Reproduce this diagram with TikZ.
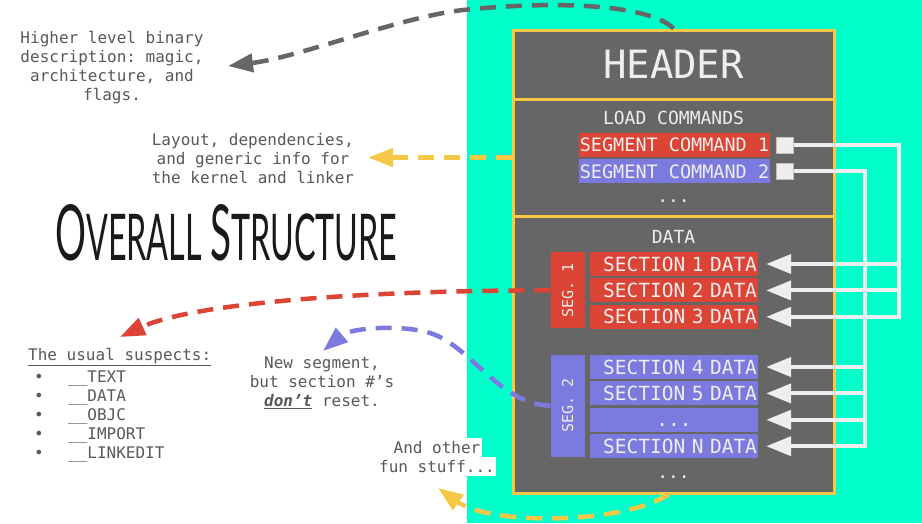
\documentclass[tikz,border=0pt]{standalone}
\usepackage{fontspec}
\setmonofont{DejaVu Sans Mono}
\newfontfamily\titlefont{Lato}
\usepackage{tikz}
\usetikzlibrary{arrows.meta, positioning}

\definecolor{sea}{HTML}{00FFCA}
\definecolor{slab}{HTML}{666666}
\definecolor{gold}{HTML}{F6C845}
\definecolor{segred}{HTML}{DC4436}
\definecolor{segblue}{HTML}{7B7BDF}
\definecolor{note}{HTML}{595959}
\definecolor{paper}{HTML}{EEEEEE}
\definecolor{ink}{HTML}{1A1A1A}

\begin{document}
\begin{tikzpicture}[
    x=1pt, y=-1pt,
    part/.style={draw=gold, line width=3pt, fill=slab, minimum width=321pt, inner sep=0pt},
    tag/.style={text=paper, inner sep=0pt, font=\ttfamily\fontsize{18}{18}\selectfont},
    cmd/.style={fill=#1, text=paper, minimum width=191pt, minimum height=24pt, inner sep=0pt, font=\ttfamily\fontsize{18.5}{18.5}\selectfont},
    sect/.style={fill=#1, text=paper, minimum width=168pt, minimum height=24pt, inner xsep=1pt, inner ysep=0pt, text width=166pt, align=right, font=\ttfamily\fontsize{19.5}{19.5}\selectfont},
    seg/.style={fill=#1, text=paper, minimum width=34pt, inner sep=0pt, font=\ttfamily\fontsize{15}{15}\selectfont},
    port/.style={draw=black!25, fill=paper, minimum width=17pt, minimum height=16pt, inner sep=0pt},
    wire/.style={draw=paper, line width=4pt, -{Triangle[length=25pt, width=19pt]}, shorten >=8pt},
    notes/.style={text=note, align=center, inner sep=0pt, font=\ttfamily\fontsize{16}{19}\selectfont},
    hint/.style={draw=#1, line width=4.5pt, dash pattern=on 16pt off 10pt, -{Triangle[length=25pt, width=18pt]}},
]
    \useasboundingbox (0,0) rectangle (922,523);
    \fill[white] (0,0) rectangle (467,523);
    \fill[sea] (467,0) rectangle (922,523);

    % Binary layout
    \node[part, minimum height=69pt, text=paper, font=\ttfamily\fontsize{39}{39}\selectfont] (hdr) at (673.5,64.5) {HEADER};
    \node[part, minimum height=117pt] (lcmd) at (673.5,157.5) {};
    \node[part, minimum height=277pt] (dsec) at (673.5,354.5) {};

    % Load commands
    \node[tag] (lctitle) at (673.5,118) {LOAD COMMANDS};
    \node[cmd=segred] (sc1) at (674.5,145) {SEGMENT COMMAND 1};
    \node[cmd=segblue, below=2pt of sc1] (sc2) {SEGMENT COMMAND 2};
    \node[port, right=6pt of sc1] (sq1) {};
    \node[port, right=6pt of sc2] (sq2) {};
    \node[tag] (lcdots) at (673.5,201) {...};

    % Data
    \node[tag] (dtitle) at (673.5,237) {DATA};
    \node[sect=segred] (s1) at (674,264) {SECTION 1 DATA};
    \node[sect=segred, below=2pt of s1] (s2) {SECTION 2 DATA};
    \node[sect=segred, below=2pt of s2] (s3) {SECTION 3 DATA};
    \node[seg=segred, minimum height=76pt, left=5pt of s2] (seg1) {\rotatebox{90}{SEG. 1}};
    \node[sect=segblue] (s4) at (674,367) {SECTION 4 DATA};
    \node[sect=segblue, below=2pt of s4] (s5) {SECTION 5 DATA};
    \node[sect=segblue, below=2pt of s5, align=center] (s6) {\vphantom{S}...};
    \node[sect=segblue, below=2pt of s6] (sn) {SECTION N DATA};
    \node[seg=segblue, minimum height=102pt, left=5pt of s5.south west] (seg2) {\rotatebox{90}{SEG. 2}};
    \node[tag] (bdots) at (673.5,477) {...};

    % Commands point at their sections
    \coordinate (bus1) at ([xshift=105pt]sq1.east);
    \coordinate (bus2) at ([xshift=71pt]sq2.east);
    \draw[wire] (sq1.east) -- (bus1) |- (s3.east);
    \draw[wire] (bus1 |- s1.east) -- (s1.east);
    \draw[wire] (bus1 |- s2.east) -- (s2.east);
    \draw[wire] (sq2.east) -- (bus2) |- (sn.east);
    \draw[wire] (bus2 |- s4.east) -- (s4.east);
    \draw[wire] (bus2 |- s5.east) -- (s5.east);
    \draw[wire] (bus2 |- s6.east) -- (s6.east);

    % Notes
    \node[notes] (hl) at (112,67.5) {Higher level binary\\description: magic,\\architecture, and\\flags.};
    \node[notes] (lay) at (253,159) {Layout, dependencies,\\and generic info for\\the kernel and linker};
    \node[anchor=south west, inner sep=0pt, text=ink] (title) at (55,261) {\titlefont\resizebox{342pt}{56pt}{\Huge O\huge VERALL \Huge S\huge TRUCTURE}};
    \node[notes, anchor=west] (sus) at (28,357) {\underline{The usual suspects:}};
    \node[notes, align=left, anchor=north west] (lst) at (34,371) {\makebox[34pt][l]{•}\_\_TEXT\\\makebox[34pt][l]{•}\_\_DATA\\\makebox[34pt][l]{•}\_\_OBJC\\\makebox[34pt][l]{•}\_\_IMPORT\\\makebox[34pt][l]{•}\_\_LINKEDIT};
    \node[notes] (newseg) at (322,383) {New segment,\\but section \#’s\\\underline{\textbf{\textit{don’t}}} reset.};
    \node[notes, fill=white, inner xsep=1.5pt, inner ysep=1pt, text height=15pt, text depth=2pt] (fun1) at (437,447) {And other};
    \node[notes, fill=white, inner xsep=1.5pt, inner ysep=1pt, text height=15pt, text depth=2pt, below=0pt of fun1] (fun2) {fun stuff...};

    % Hint arrows
    \coordinate (hltip) at (228,66);
    \coordinate (laytip) at (368,157.5);
    \coordinate (sustip) at (120,337);
    \coordinate (newtip) at (323,351);
    \coordinate (funtip) at (438,488);
    \draw[hint=slab] (hdr.north) .. controls (650,5) and (560,0) .. (463,10) .. controls (400,17) and (300,57) .. (hltip);
    \draw[hint=gold] (lcmd.west) -- (laytip);
    \draw[hint=segred] (seg1.west) .. controls (400,290) and (200,300) .. (sustip);
    \draw[hint=segblue] (seg2.west) .. controls (500,405) and (470,345) .. (430,333) .. controls (400,324) and (350,328) .. (newtip);
    \draw[hint=gold] ([xshift=-5pt]dsec.south) .. controls (620,525) and (490,525) .. (funtip);
\end{tikzpicture}
\end{document}
